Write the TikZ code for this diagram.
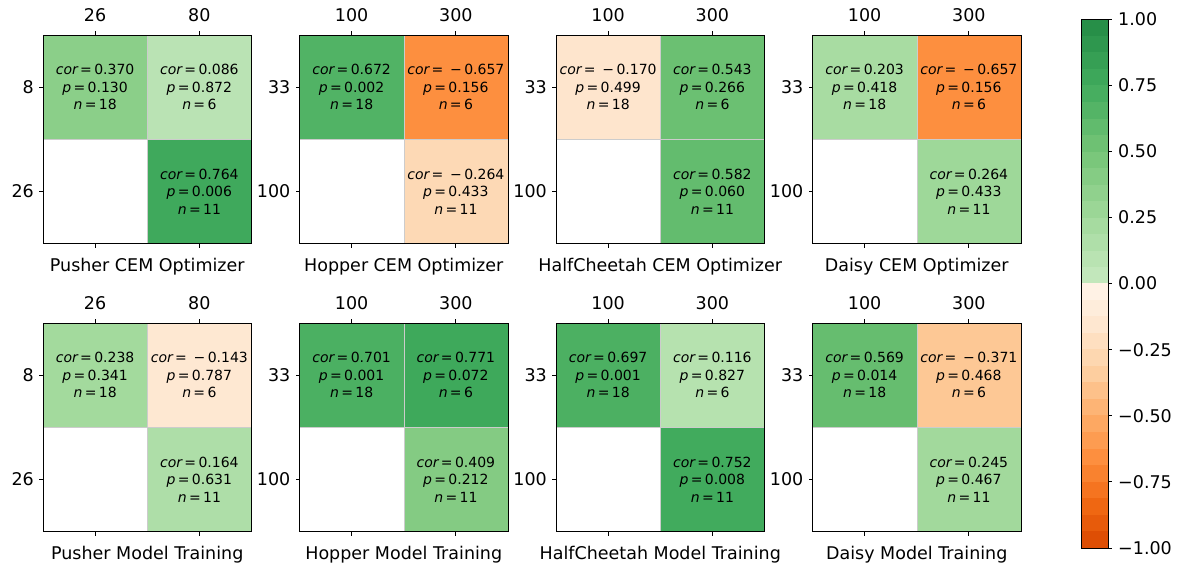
\documentclass[tikz,border=0pt]{standalone}
\usepackage{fontspec}
\setmainfont{DejaVu Sans}

% Greens (0 ... 1) and Oranges (0 ... -1)
\definecolor{G0}{HTML}{C7E9C0}
\definecolor{G1}{HTML}{A1D99B}
\definecolor{G2}{HTML}{74C476}
\definecolor{G3}{HTML}{41AB5D}
\definecolor{G4}{HTML}{238B45}
\definecolor{O0}{HTML}{FFF5EB}
\definecolor{O1}{HTML}{FEE6CE}
\definecolor{O2}{HTML}{FDD0A2}
\definecolor{O3}{HTML}{FDAE6B}
\definecolor{O4}{HTML}{FD8D3C}
\definecolor{O5}{HTML}{F16913}
\definecolor{O6}{HTML}{D94801}

\tikzset{
  hmframe/.style={draw=black, line width=0.8pt},
  hmtick/.style={draw=black, line width=0.8pt},
  hmcellbox/.style={draw=black!20, line width=0.5pt},
  ticklabel/.style={inner sep=0pt, font=\fontsize{17.5}{21}\selectfont},
  paneltitle/.style={inner sep=0pt, font=\fontsize{17.5}{21}\selectfont},
  celltext/.style={align=center, inner sep=0pt, font=\fontsize{14}{17.5}\selectfont},
}

\newcommand{\stat}[3]{{\itshape cor}\,=\,#1\\{\itshape p}\,=\,#2\\{\itshape n}\,=\,#3}
\newcommand{\mneg}{\ −\,}

% name, x0, y0, column, row, fill, text
\newcommand{\hmcell}[7]{%
  \fill[#6, hmcellbox] ({#2+#4*104.25},{#3+#5*104.25}) rectangle ++(104.25,104.25);
  \node[celltext] (#1) at ({#2+(#4+0.5)*104.25},{#3+(#5+0.5)*104.25}) {#7};}

% name, x0, y0, xtick a, xtick b, ytick a, ytick b, title
\newcommand{\hmpanel}[8]{%
  \begin{scope}[shift={(#2,#3)}]
    \draw[hmframe] (0,0) rectangle (208.5,208.5);
    \foreach \c in {52.125,156.375} {
      \draw[hmtick] (\c,0) -- (\c,-4);
      \draw[hmtick] (\c,208.5) -- (\c,212.5);
      \draw[hmtick] (0,\c) -- (-4,\c);
    }
    \node[ticklabel] (#1-xa) at (52.125,-20) {#4};
    \node[ticklabel] (#1-xb) at (156.375,-20) {#5};
    \node[ticklabel, anchor=east] (#1-ya) at (-9,52.125) {#6};
    \node[ticklabel, anchor=east] (#1-yb) at (-9,156.375) {#7};
    \node[paneltitle] (#1-title) at (104.25,232) {#8};
  \end{scope}}

\begin{document}
\begin{tikzpicture}[x=1pt, y=-1pt]
  \useasboundingbox[fill=white] (0,0) rectangle (1177,565);

  % top row
  \hmcell{pusherCEM-a}{43}{35}{0}{0}{G2!48!G1}{\stat{0.370}{0.130}{18}}
  \hmcell{pusherCEM-b}{43}{35}{1}{0}{G1!34!G0}{\stat{0.086}{0.872}{6}}
  \hmcell{pusherCEM-c}{43}{35}{1}{1}{G4!6!G3}{\stat{0.764}{0.006}{11}}
  \hmpanel{pusherCEM}{43}{35}{26}{80}{8}{26}{Pusher CEM Optimizer}

  \hmcell{hopperCEM-a}{299.5}{35}{0}{0}{G3!69!G2}{\stat{0.672}{0.002}{18}}
  \hmcell{hopperCEM-b}{299.5}{35}{1}{0}{O4!94!O3}{\stat{\mneg0.657}{0.156}{6}}
  \hmcell{hopperCEM-c}{299.5}{35}{1}{1}{O2!58!O1}{\stat{\mneg0.264}{0.433}{11}}
  \hmpanel{hopperCEM}{299.5}{35}{100}{300}{33}{100}{Hopper CEM Optimizer}

  \hmcell{cheetahCEM-a}{556}{35}{0}{0}{O2!2!O1}{\stat{\mneg0.170}{0.499}{18}}
  \hmcell{cheetahCEM-b}{556}{35}{1}{0}{G3!17!G2}{\stat{0.543}{0.266}{6}}
  \hmcell{cheetahCEM-c}{556}{35}{1}{1}{G3!33!G2}{\stat{0.582}{0.060}{11}}
  \hmpanel{cheetahCEM}{556}{35}{100}{300}{33}{100}{HalfCheetah CEM Optimizer}

  \hmcell{daisyCEM-a}{812.5}{35}{0}{0}{G1!81!G0}{\stat{0.203}{0.418}{18}}
  \hmcell{daisyCEM-b}{812.5}{35}{1}{0}{O4!94!O3}{\stat{\mneg0.657}{0.156}{6}}
  \hmcell{daisyCEM-c}{812.5}{35}{1}{1}{G2!6!G1}{\stat{0.264}{0.433}{11}}
  \hmpanel{daisyCEM}{812.5}{35}{100}{300}{33}{100}{Daisy CEM Optimizer}

  % bottom row
  \hmcell{pusherMT-a}{43}{323}{0}{0}{G1!95!G0}{\stat{0.238}{0.341}{18}}
  \hmcell{pusherMT-b}{43}{323}{1}{0}{O1!86!O0}{\stat{\mneg0.143}{0.787}{6}}
  \hmcell{pusherMT-c}{43}{323}{1}{1}{G1!66!G0}{\stat{0.164}{0.631}{11}}
  \hmpanel{pusherMT}{43}{323}{26}{80}{8}{26}{Pusher Model Training}

  \hmcell{hopperMT-a}{299.5}{323}{0}{0}{G3!80!G2}{\stat{0.701}{0.001}{18}}
  \hmcell{hopperMT-b}{299.5}{323}{1}{0}{G4!8!G3}{\stat{0.771}{0.072}{6}}
  \hmcell{hopperMT-c}{299.5}{323}{1}{1}{G2!64!G1}{\stat{0.409}{0.212}{11}}
  \hmpanel{hopperMT}{299.5}{323}{100}{300}{33}{100}{Hopper Model Training}

  \hmcell{cheetahMT-a}{556}{323}{0}{0}{G3!79!G2}{\stat{0.697}{0.001}{18}}
  \hmcell{cheetahMT-b}{556}{323}{1}{0}{G1!46!G0}{\stat{0.116}{0.827}{6}}
  \hmcell{cheetahMT-c}{556}{323}{1}{1}{G4!1!G3}{\stat{0.752}{0.008}{11}}
  \hmpanel{cheetahMT}{556}{323}{100}{300}{33}{100}{HalfCheetah Model Training}

  \hmcell{daisyMT-a}{812.5}{323}{0}{0}{G3!28!G2}{\stat{0.569}{0.014}{18}}
  \hmcell{daisyMT-b}{812.5}{323}{1}{0}{O3!23!O2}{\stat{\mneg0.371}{0.468}{6}}
  \hmcell{daisyMT-c}{812.5}{323}{1}{1}{G1!98!G0}{\stat{0.245}{0.467}{11}}
  \hmpanel{daisyMT}{812.5}{323}{100}{300}{33}{100}{Daisy Model Training}

  % colour bar
  \foreach \i in {0,...,15} {
    \pgfmathsetmacro\v{(\i+0.5)/16}
    \pgfmathtruncatemacro\k{floor(4*\v)}
    \pgfmathtruncatemacro\kk{\k+1}
    \pgfmathsetmacro\gmix{100*(4*\v-\k)}
    \fill[G\kk!\gmix!G\k] (1081,{283.5-\i*16.53+0.3}) rectangle (1108,{283.5-(\i+1)*16.53});
    \pgfmathtruncatemacro\m{floor(6*\v)}
    \pgfmathtruncatemacro\mm{\m+1}
    \pgfmathsetmacro\omix{100*(6*\v-\m)}
    \fill[O\mm!\omix!O\m] (1081,{283.5+\i*16.53-0.3}) rectangle (1108,{283.5+(\i+1)*16.53});
  }
  \draw[hmframe] (1081,19) rectangle (1108,548);
  \foreach \val/\lab [count=\j] in {1/1.00, 0.75/0.75, 0.5/0.50, 0.25/0.25, 0/0.00,
      -0.25/−0.25, -0.5/−0.50, -0.75/−0.75, -1/−1.00} {
    \draw[hmtick] (1108,{283.5-\val*264.5}) -- (1112,{283.5-\val*264.5});
    \node[ticklabel, anchor=west] (cbar-\j) at (1118,{283.5-\val*264.5}) {\lab};
  }
\end{tikzpicture}
\end{document}
